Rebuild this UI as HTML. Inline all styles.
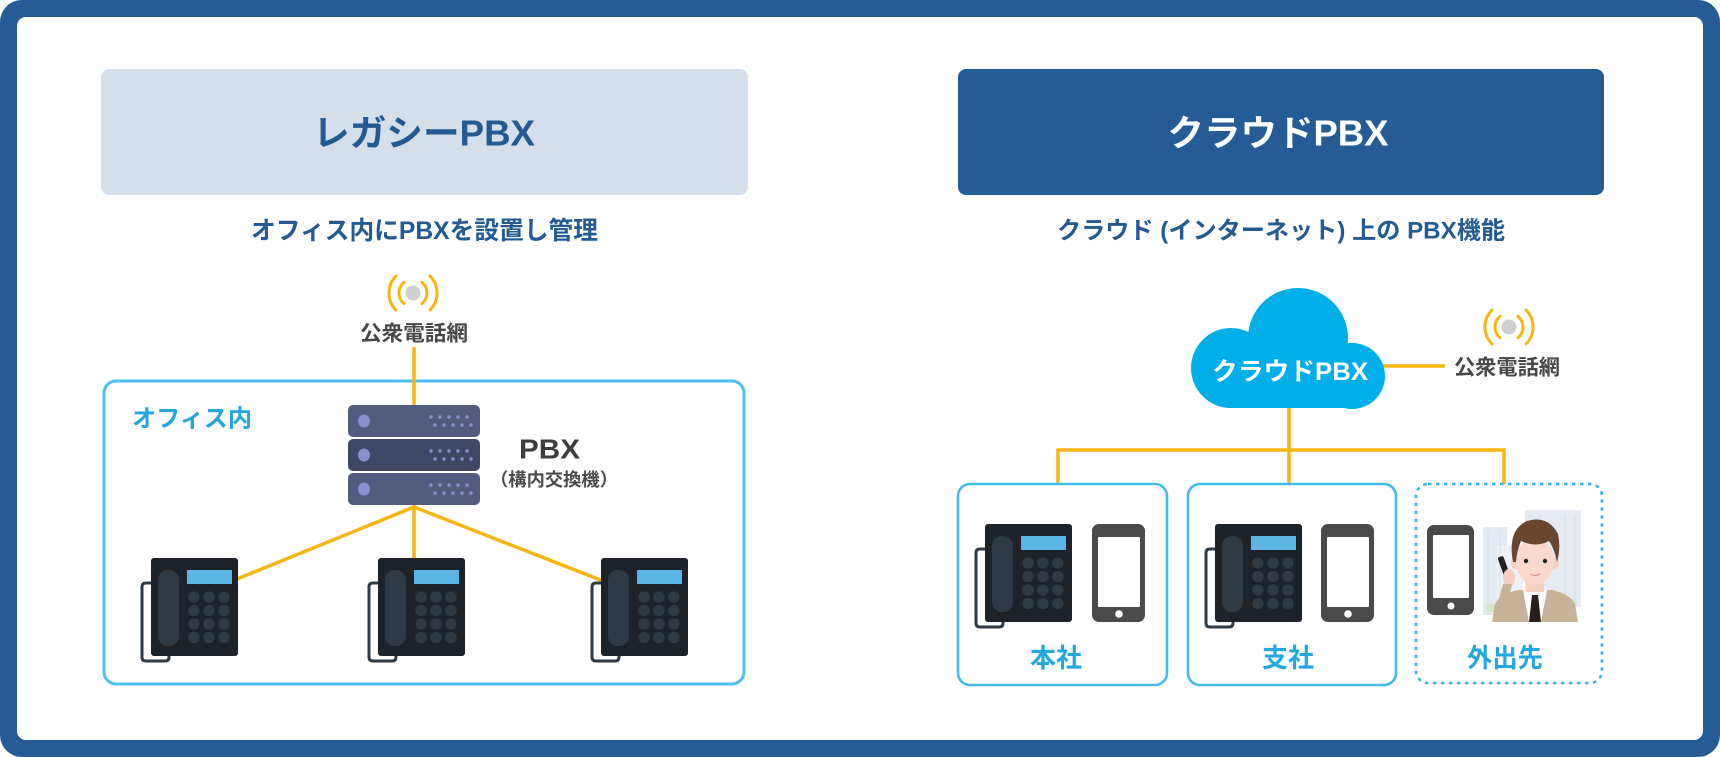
<!DOCTYPE html>
<html lang="ja">
<head>
<meta charset="utf-8">
<style>
  html,body{margin:0;padding:0;background:#ffffff;}
  body{width:1720px;height:757px;overflow:hidden;position:relative;}
  svg{position:absolute;left:0;top:0;display:block;}
  text{font-family:"Liberation Sans","Noto Sans CJK JP",sans-serif;font-weight:700;}
</style>
</head>
<body>
<svg width="1720" height="757" viewBox="0 0 1720 757" xmlns="http://www.w3.org/2000/svg">
  <defs>
    <g id="ph">
      <path d="M2,25 H-5 Q-9,25 -9,29 V99 Q-9,103 -5,103 H14 Q18,103 18,99 V86" fill="none" stroke="#2f3a45" stroke-width="3"/>
      <rect x="0" y="0" width="87" height="98" rx="3" fill="#1e2329"/>
      <rect x="7" y="12" width="21" height="76" rx="10" fill="#2f3a45"/>
      <rect x="36" y="12" width="45" height="14" fill="#5db5e6"/>
      <g fill="#2f3a45">
        <rect x="37.5" y="33.5" width="11" height="11" rx="4.5"/>
        <rect x="52.5" y="33.5" width="11" height="11" rx="4.5"/>
        <rect x="67.5" y="33.5" width="11" height="11" rx="4.5"/>
        <rect x="37.5" y="47" width="11" height="11" rx="4.5"/>
        <rect x="52.5" y="47" width="11" height="11" rx="4.5"/>
        <rect x="67.5" y="47" width="11" height="11" rx="4.5"/>
        <rect x="37.5" y="60.5" width="11" height="11" rx="4.5"/>
        <rect x="52.5" y="60.5" width="11" height="11" rx="4.5"/>
        <rect x="67.5" y="60.5" width="11" height="11" rx="4.5"/>
        <rect x="37.5" y="74" width="11" height="11" rx="4.5"/>
        <rect x="52.5" y="74" width="11" height="11" rx="4.5"/>
        <rect x="67.5" y="74" width="11" height="11" rx="4.5"/>
      </g>
    </g>
    <g id="mob">
      <rect x="0" y="0" width="53" height="98" rx="7" fill="#4a4a4a"/>
      <rect x="6" y="13" width="42" height="70" rx="1" fill="#ffffff"/>
      <circle cx="27" cy="90" r="3.8" fill="#ffffff"/>
    </g>
  </defs>

  <!-- outer frame -->
  <rect x="0" y="0" width="1720" height="757" rx="22" fill="#255c96"/>
  <rect x="17" y="17" width="1686" height="723" rx="9" fill="#ffffff"/>

  <!-- headers -->
  <rect x="101" y="69" width="647" height="126" rx="8" fill="#d4dfea"/>
  <text x="424" y="133" font-size="36" fill="#245a93" text-anchor="middle" dominant-baseline="central" textLength="222" lengthAdjust="spacingAndGlyphs">レガシーPBX</text>
  <rect x="958" y="69" width="646" height="126" rx="8" fill="#255c96"/>
  <text x="1278" y="133" font-size="36" fill="#ffffff" text-anchor="middle" dominant-baseline="central" textLength="221" lengthAdjust="spacingAndGlyphs">クラウドPBX</text>

  <!-- subtitles -->
  <text x="424.5" y="231" font-size="25" fill="#245a93" text-anchor="middle" dominant-baseline="central" textLength="347" lengthAdjust="spacingAndGlyphs">オフィス内にPBXを設置し管理</text>
  <text x="1281" y="231" font-size="24" fill="#245a93" text-anchor="middle" dominant-baseline="central" textLength="448" lengthAdjust="spacingAndGlyphs">クラウド (インターネット) 上の PBX機能</text>

  <!-- ===== LEFT DIAGRAM ===== -->
  <circle cx="413" cy="293" r="7.5" fill="#cfcfcf"/>
  <g fill="none" stroke="#f7b611" stroke-width="3" stroke-linecap="round">
    <path d="M422,282.3 A14,14 0 0 1 422,303.7"/>
    <path d="M404,282.3 A14,14 0 0 0 404,303.7"/>
    <path d="M430,276 A24,24 0 0 1 430,310"/>
    <path d="M396,276 A24,24 0 0 0 396,310"/>
  </g>
  <text x="414" y="334" font-size="21" fill="#474747" text-anchor="middle" dominant-baseline="central" textLength="108" lengthAdjust="spacingAndGlyphs">公衆電話網</text>

  <rect x="104" y="381" width="640" height="303" rx="12" fill="none" stroke="#4cc0ee" stroke-width="3"/>
  <text x="132" y="419" font-size="24" fill="#22a7e0" dominant-baseline="central" textLength="120" lengthAdjust="spacingAndGlyphs">オフィス内</text>

  <g stroke="#f6b612" stroke-width="3.5" fill="none">
    <line x1="414" y1="347" x2="414" y2="410"/>
    <line x1="414" y1="505" x2="414" y2="560"/>
    <line x1="414" y1="507" x2="237" y2="579"/>
    <line x1="414" y1="507" x2="603" y2="581"/>
  </g>

  <g>
    <rect x="348" y="405" width="132" height="32" rx="5" fill="#525c7e"/>
    <rect x="348" y="439" width="132" height="32" rx="5" fill="#3f4666"/>
    <rect x="348" y="473" width="132" height="32" rx="5" fill="#525c7e"/>
    <g fill="#8a8fd0">
      <ellipse cx="364" cy="421" rx="6" ry="6.5"/>
      <ellipse cx="364" cy="455" rx="6" ry="6.5"/>
      <ellipse cx="364" cy="489" rx="6" ry="6.5"/>
    </g>
    <g fill="#8a8fd0">
      <circle cx="431" cy="417" r="1.7"/><circle cx="440" cy="417" r="1.7"/><circle cx="449" cy="417" r="1.7"/><circle cx="458" cy="417" r="1.7"/><circle cx="467" cy="417" r="1.7"/>
      <circle cx="435" cy="425" r="1.7"/><circle cx="444" cy="425" r="1.7"/><circle cx="453" cy="425" r="1.7"/><circle cx="462" cy="425" r="1.7"/><circle cx="471" cy="425" r="1.7"/>
      <circle cx="431" cy="451" r="1.7"/><circle cx="440" cy="451" r="1.7"/><circle cx="449" cy="451" r="1.7"/><circle cx="458" cy="451" r="1.7"/><circle cx="467" cy="451" r="1.7"/>
      <circle cx="435" cy="459" r="1.7"/><circle cx="444" cy="459" r="1.7"/><circle cx="453" cy="459" r="1.7"/><circle cx="462" cy="459" r="1.7"/><circle cx="471" cy="459" r="1.7"/>
      <circle cx="431" cy="485" r="1.7"/><circle cx="440" cy="485" r="1.7"/><circle cx="449" cy="485" r="1.7"/><circle cx="458" cy="485" r="1.7"/><circle cx="467" cy="485" r="1.7"/>
      <circle cx="435" cy="493" r="1.7"/><circle cx="444" cy="493" r="1.7"/><circle cx="453" cy="493" r="1.7"/><circle cx="462" cy="493" r="1.7"/><circle cx="471" cy="493" r="1.7"/>
    </g>
  </g>
  <text x="549.5" y="449" font-size="28" fill="#3d3d3d" text-anchor="middle" dominant-baseline="central" textLength="61" lengthAdjust="spacingAndGlyphs">PBX</text>
  <text x="554" y="480" font-size="18" fill="#4a4a4a" text-anchor="middle" dominant-baseline="central" textLength="128" lengthAdjust="spacingAndGlyphs">（構内交換機）</text>

  <use href="#ph" x="151" y="558"/>
  <use href="#ph" x="378" y="558"/>
  <use href="#ph" x="601" y="558"/>

  <!-- ===== RIGHT DIAGRAM ===== -->
  <g stroke="#f6b612" stroke-width="3.5" fill="none">
    <line x1="1383" y1="366" x2="1445" y2="366"/>
    <line x1="1289" y1="400" x2="1289" y2="484"/>
    <polyline points="1058,484 1058,450 1504,450 1504,484"/>
  </g>

  <g fill="#00aee9">
    <circle cx="1298" cy="338" r="50"/>
    <circle cx="1231" cy="368" r="40"/>
    <circle cx="1352" cy="376" r="33"/>
    <rect x="1231" y="352" width="114" height="56"/>
    <rect x="1240" y="365" width="118" height="43" rx="4"/>
  </g>
  <text x="1290" y="372" font-size="25" fill="#ffffff" text-anchor="middle" dominant-baseline="central" textLength="156" lengthAdjust="spacingAndGlyphs">クラウドPBX</text>

  <circle cx="1509" cy="327" r="7.5" fill="#cfcfcf"/>
  <g fill="none" stroke="#f7b611" stroke-width="3" stroke-linecap="round">
    <path d="M1518,316.3 A14,14 0 0 1 1518,337.7"/>
    <path d="M1500,316.3 A14,14 0 0 0 1500,337.7"/>
    <path d="M1526,310 A24,24 0 0 1 1526,344"/>
    <path d="M1492,310 A24,24 0 0 0 1492,344"/>
  </g>
  <text x="1507" y="368" font-size="21" fill="#474747" text-anchor="middle" dominant-baseline="central" textLength="106" lengthAdjust="spacingAndGlyphs">公衆電話網</text>

  <rect x="958" y="484" width="209" height="201" rx="12" fill="none" stroke="#42bced" stroke-width="2.6"/>
  <rect x="1188" y="484" width="208" height="201" rx="12" fill="none" stroke="#42bced" stroke-width="2.6"/>
  <rect x="1416" y="484" width="186" height="199" rx="12" fill="none" stroke="#35b6ea" stroke-width="2.6" stroke-dasharray="3.5 4.5"/>

  <use href="#ph" x="985" y="524"/>
  <use href="#mob" x="1092" y="524"/>
  <text x="1056" y="658" font-size="26" fill="#22a7e0" text-anchor="middle" dominant-baseline="central" textLength="52" lengthAdjust="spacingAndGlyphs">本社</text>

  <use href="#ph" x="1215" y="524"/>
  <use href="#mob" x="1321" y="524"/>
  <text x="1288" y="658" font-size="26" fill="#22a7e0" text-anchor="middle" dominant-baseline="central" textLength="52" lengthAdjust="spacingAndGlyphs">支社</text>

  <rect x="1427" y="525" width="47" height="90" rx="7" fill="#4a4a4a"/>
  <rect x="1433" y="535" width="36" height="63" rx="1" fill="#ffffff"/>
  <circle cx="1451" cy="606" r="3.5" fill="#ffffff"/>

  <g>
    <rect x="1483" y="527" width="24" height="88" fill="#e4eaf1"/>
    <rect x="1497" y="545" width="26" height="70" fill="#eef2f6"/>
    <rect x="1525" y="510" width="56" height="97" fill="#e6ebf1"/>
    <g stroke="#d5dde7" stroke-width="1">
      <line x1="1530" y1="515" x2="1530" y2="605"/>
      <line x1="1540" y1="515" x2="1540" y2="605"/>
      <line x1="1565" y1="515" x2="1565" y2="605"/>
      <line x1="1575" y1="515" x2="1575" y2="605"/>
      <line x1="1488" y1="530" x2="1488" y2="612"/>
      <line x1="1500" y1="530" x2="1500" y2="612"/>
    </g>
    <ellipse cx="1492" cy="608" rx="6" ry="4" fill="#cfe6c6"/>
    <ellipse cx="1572" cy="603" rx="5" ry="4" fill="#cfe6c6"/>
    <path d="M1492,622 L1495,604 Q1500,594 1518,590 L1552,590 Q1570,594 1575,604 L1578,622 Z" fill="#c8b398"/>
    <path d="M1523,590 L1547,590 L1541,622 L1529,622 Z" fill="#ffffff"/>
    <path d="M1532,595 L1538,595 L1541,622 L1529,622 Z" fill="#2b1d1d"/>
    <rect x="1526" y="576" width="18" height="16" fill="#f5cfc0"/>
    <ellipse cx="1515" cy="563" rx="4" ry="6" fill="#f5cfc0"/>
    <ellipse cx="1555" cy="563" rx="4" ry="6" fill="#f5cfc0"/>
    <ellipse cx="1535" cy="561" rx="19" ry="24" fill="#fad8cc"/>
    <path d="M1513,562 Q1507,530 1527,521 Q1548,515 1558,534 Q1561,548 1557,562 Q1554,548 1549,541 Q1536,548 1521,541 Q1517,550 1516,562 Z" fill="#6a4530"/>
    <circle cx="1526" cy="561" r="2.2" fill="#222"/>
    <circle cx="1545" cy="561" r="2.2" fill="#222"/>
    <path d="M1530,574 Q1535,577 1540,574" stroke="#d99a8a" stroke-width="1.2" fill="none"/>
    <rect x="1501" y="556" width="6" height="22" rx="2" fill="#222" transform="rotate(-20 1504 567)"/>
    <ellipse cx="1509" cy="578" rx="6" ry="9" fill="#f5cfc0"/>
    <path d="M1503,584 L1512,584 L1508,605 L1497,606 Z" fill="#c8b398"/>
  </g>
  <text x="1505" y="658" font-size="26" fill="#22a7e0" text-anchor="middle" dominant-baseline="central" textLength="76" lengthAdjust="spacingAndGlyphs">外出先</text>
</svg>
</body>
</html>
